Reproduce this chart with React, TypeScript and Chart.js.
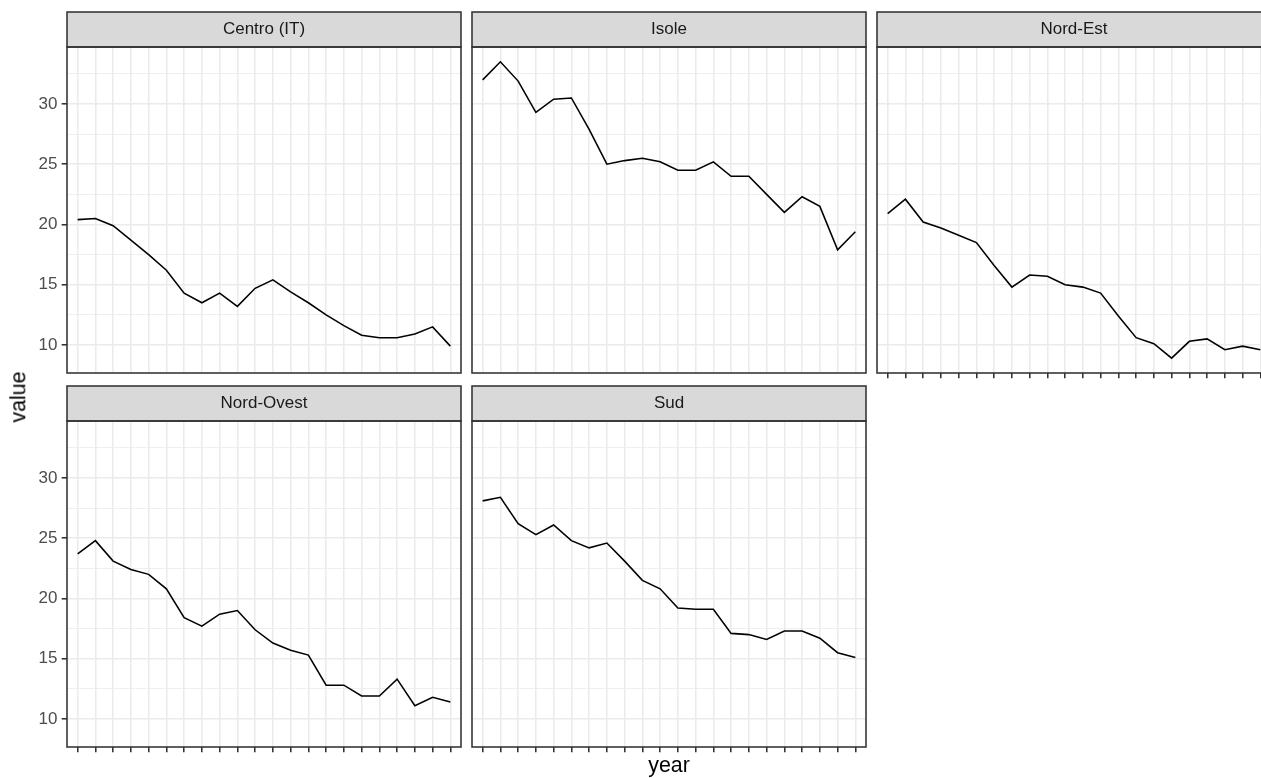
import React, { useEffect, useRef } from 'react';
import { Chart, registerables } from 'chart.js';

Chart.register(...registerables);

const FONT = '"Liberation Sans", Arial, Helvetica, sans-serif';

// ---- data ----
const years = [
  '2000', '2001', '2002', '2003', '2004', '2005', '2006', '2007', '2008', '2009', '2010',
  '2011', '2012', '2013', '2014', '2015', '2016', '2017', '2018', '2019', '2020', '2021',
];
const centro = [20.4, 20.5, 19.9, 18.7, 17.5, 16.2, 14.3, 13.5, 14.3, 13.2, 14.7, 15.4, 14.4, 13.5, 12.5, 11.6, 10.8, 10.6, 10.6, 10.9, 11.5, 9.9];
const isole = [32.0, 33.5, 31.9, 29.3, 30.4, 30.5, 27.9, 25.0, 25.3, 25.5, 25.2, 24.5, 24.5, 25.2, 24.0, 24.0, 22.5, 21.0, 22.3, 21.5, 17.9, 19.4];
const nordEst = [20.9, 22.1, 20.2, 19.7, 19.1, 18.5, 16.6, 14.8, 15.8, 15.7, 15.0, 14.8, 14.3, 12.4, 10.6, 10.1, 8.9, 10.3, 10.5, 9.6, 9.9, 9.6];
const nordOvest = [23.7, 24.8, 23.1, 22.4, 22.0, 20.8, 18.4, 17.7, 18.7, 19.0, 17.4, 16.3, 15.7, 15.3, 12.8, 12.8, 11.9, 11.9, 13.3, 11.1, 11.8, 11.4];
const sud = [28.1, 28.4, 26.2, 25.3, 26.1, 24.8, 24.2, 24.6, 23.1, 21.5, 20.8, 19.2, 19.1, 19.1, 17.1, 17.0, 16.6, 17.3, 17.3, 16.7, 15.5, 15.1];

const regions = ['Centro (IT)', 'Isole', 'Nord-Est', 'Nord-Ovest', 'Sud'];
const seriesList = [centro, isole, nordEst, nordOvest, sud];

const yMajorTicks = [10, 15, 20, 25, 30];
const yMinorTicks = [12.5, 17.5, 22.5, 27.5, 32.5];

// shared y range (ggplot: 5% expansion)
const allValues = seriesList.flat();
const dataMin = Math.min(...allValues);
const dataMax = Math.max(...allValues);
const yMin = dataMin - 0.05 * (dataMax - dataMin);
const yMax = dataMax + 0.05 * (dataMax - dataMin);

// ---- layout ----
const COL_LEFT = [67, 472, 877];
const ROW_TOP = [12, 386];
const PLOT_W = 394;
const STRIP_H = 35;
const PLOT_H = 326;
const LW = 1.56;

type PanelProps = {
  title: string;
  values: number[];
  col: number;
  row: number;
  showY: boolean;
  showX: boolean;
};

const panelLayout = [
  { col: 0, row: 0, showY: true, showX: false },
  { col: 1, row: 0, showY: false, showX: false },
  { col: 2, row: 0, showY: false, showX: true },
  { col: 0, row: 1, showY: true, showX: true },
  { col: 1, row: 1, showY: false, showX: true },
];

function Panel({ title, values, col, row, showY, showX }: PanelProps) {
  const ref = useRef<HTMLCanvasElement | null>(null);
  const padL = showY ? 60 : 2;
  const padB = showX ? 9 : 2;
  const padR = 2;
  const padT = 1;
  const width = padL + PLOT_W + padR;
  const height = padT + STRIP_H + PLOT_H + padB;

  useEffect(() => {
    if (!ref.current) return;
    const framePlugin = {
      id: 'facetFrame',
      beforeDraw(chart: any) {
        const { ctx, chartArea } = chart;
        ctx.save();
        ctx.fillStyle = '#D9D9D9';
        ctx.fillRect(chartArea.left, padT, chartArea.right - chartArea.left, chartArea.top - padT);
        ctx.restore();
      },
      afterDraw(chart: any) {
        const { ctx, chartArea } = chart;
        ctx.save();
        ctx.strokeStyle = '#333333';
        ctx.lineWidth = LW;
        ctx.strokeRect(chartArea.left, padT, chartArea.right - chartArea.left, chartArea.top - padT);
        ctx.strokeRect(chartArea.left, chartArea.top, chartArea.right - chartArea.left, chartArea.bottom - chartArea.top);
        ctx.restore();
      },
    };

    const isMajor = (v: number) => yMajorTicks.includes(v);

    const chart = new Chart(ref.current, {
      type: 'line',
      data: {
        datasets: [
          {
            data: values.map((v, i) => ({ x: i, y: v })),
            borderColor: '#000000',
            borderWidth: LW,
            pointRadius: 0,
            tension: 0,
            fill: false,
          },
        ],
      },
      options: {
        responsive: false,
        animation: false,
        devicePixelRatio: 1,
        layout: { padding: { top: padT, right: padR, left: 0, bottom: 0 } },
        plugins: {
          legend: { display: false },
          tooltip: { enabled: false },
          title: {
            display: true,
            text: title,
            fullSize: false,
            color: '#1A1A1A',
            font: { family: FONT, size: 17, weight: 'normal', lineHeight: 1.2 },
            padding: { top: 7.3, bottom: 7.3 },
          },
        },
        scales: {
          x: {
            type: 'linear',
            min: -0.6,
            max: years.length - 0.4,
            afterBuildTicks: (s: any) => {
              s.ticks = years.map((_, i) => ({ value: i }));
            },
            afterFit: (s: any) => {
              s.height = padB;
              s.paddingLeft = 0;
              s.paddingRight = 0;
            },
            ticks: { display: false, autoSkip: false },
            grid: {
              color: '#EBEBEB',
              lineWidth: LW,
              drawTicks: showX,
              tickLength: 5.35,
              tickColor: '#333333',
              tickWidth: LW,
            },
            border: { display: false },
          },
          y: {
            type: 'linear',
            min: yMin,
            max: yMax,
            afterBuildTicks: (s: any) => {
              s.ticks = [...yMajorTicks, ...yMinorTicks].sort((a, b) => a - b).map((v) => ({ value: v }));
            },
            afterFit: (s: any) => {
              s.width = padL;
              s.paddingTop = 0;
              s.paddingBottom = 0;
            },
            ticks: {
              display: showY,
              autoSkip: false,
              color: '#4D4D4D',
              padding: 4.3,
              font: { family: FONT, size: 17 },
              callback: (v: any) => (isMajor(Number(v)) ? String(v) : ''),
            },
            grid: {
              color: '#EBEBEB',
              lineWidth: (c: any) => (c.tick && isMajor(c.tick.value) ? LW : LW / 2),
              drawTicks: showY,
              tickLength: 5.35,
              tickColor: (c: any) => (c.tick && isMajor(c.tick.value) ? '#333333' : 'rgba(0,0,0,0)'),
              tickWidth: LW,
            },
            border: { display: false },
          },
        },
      } as any,
      plugins: [framePlugin],
    });
    return () => chart.destroy();
  }, [title, values, showX, showY]);

  return (
    <canvas
      ref={ref}
      width={width}
      height={height}
      style={{
        position: 'absolute',
        left: COL_LEFT[col] - padL,
        top: ROW_TOP[row] - padT,
        width,
        height,
      }}
    />
  );
}

export default function App() {
  return (
    <div
      style={{
        position: 'absolute',
        left: 0,
        top: 0,
        width: 1261,
        height: 778,
        overflow: 'hidden',
        background: '#FFFFFF',
        fontFamily: FONT,
      }}
    >
      {regions.map((name, i) => (
        <Panel key={name} title={name} values={seriesList[i]} {...panelLayout[i]} />
      ))}
      <div
        style={{
          position: 'absolute',
          left: 19.3,
          top: 397,
          transform: 'translate(-50%, -50%) rotate(-90deg)',
          fontSize: 21.4,
          lineHeight: 1,
          whiteSpace: 'nowrap',
          color: '#000000',
        }}
      >
        value
      </div>
      <div
        style={{
          position: 'absolute',
          left: 669,
          top: 754.7,
          transform: 'translateX(-50%)',
          fontSize: 21.4,
          lineHeight: 1,
          whiteSpace: 'nowrap',
          color: '#000000',
        }}
      >
        year
      </div>
    </div>
  );
}
